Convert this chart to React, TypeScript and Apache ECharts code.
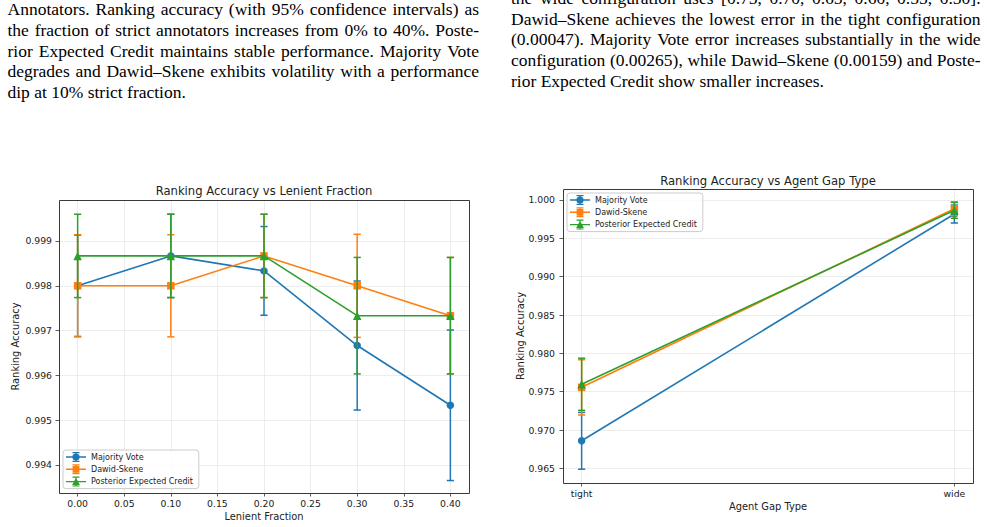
import React, { useEffect, useRef } from "react";
import * as echarts from "echarts";

// ---- Ranking accuracy vs lenient fraction (mean and 95% CI half-widths) ----
const lenientFractions = [0.0, 0.1, 0.2, 0.3, 0.4];
const mvLenient = [0.998, 0.998667, 0.998333, 0.996667, 0.995333];
const mvLenientCI = [0.00113, 0.00093, 0.00099, 0.00144, 0.00168];
const dsLenient = [0.998, 0.998, 0.998667, 0.998, 0.997333];
const dsLenientCI = [0.00114, 0.00114, 0.00093, 0.00115, 0.0013];
const pecLenient = [0.998667, 0.998667, 0.998667, 0.997333, 0.997333];
const pecLenientCI = [0.00093, 0.00093, 0.00093, 0.0013, 0.0013];
const lenientXTicks = [0, 0.05, 0.1, 0.15, 0.2, 0.25, 0.3, 0.35, 0.4];
const lenientYTicks = [0.994, 0.995, 0.996, 0.997, 0.998, 0.999];

// ---- Ranking accuracy vs agent gap type ----
const gapTypes = ["tight", "wide"];
const mvGap = [0.9686, 0.99817];
const mvGapCI = [0.0037, 0.00117];
const dsGap = [0.97557, 0.99885];
const dsGapCI = [0.0036, 0.0009];
const pecGap = [0.97597, 0.99865];
const pecGapCI = [0.0034, 0.00104];
const gapYTicks = [0.965, 0.97, 0.975, 0.98, 0.985, 0.99, 0.995, 1.0];

const methodNames = ["Majority Vote", "Dawid-Skene", "Posterior Expected Credit"];
const methodColors = ["#1f77b4", "#ff7f0e", "#2ca02c"];
const methodSymbols = ["circle", "rect", "triangle"];

// ---- Body text of the two columns ----
const leftColumnLines = [
  "Annotators. Ranking accuracy (with 95% confidence intervals) as",
  "the fraction of strict annotators increases from 0% to 40%. Poste-",
  "rior Expected Credit maintains stable performance. Majority Vote",
  "degrades and Dawid–Skene exhibits volatility with a performance",
  "dip at 10% strict fraction.",
];
const rightColumnLines = [
  "the wide configuration uses [0.75, 0.70, 0.65, 0.60, 0.55, 0.50].",
  "Dawid–Skene achieves the lowest error in the tight configuration",
  "(0.00047). Majority Vote error increases substantially in the wide",
  "configuration (0.00265), while Dawid–Skene (0.00159) and Poste-",
  "rior Expected Credit show smaller increases.",
];

const CHART_FONT = "DejaVu Sans";
const BODY_FONT = "Liberation Serif";
const BODY_SIZE = 17.5;

const leftGrid = { left: 59, top: 200, width: 410, height: 293 };
const rightGrid = { left: 563, top: 189, width: 410, height: 294 };

// Justify every line but the paragraph's last one across the column width.
function columnText(lines: string[], x0: number, width: number, firstBaseline: number, step: number) {
  const canvas = document.createElement("canvas");
  const ctx = canvas.getContext("2d")!;
  ctx.font = `${BODY_SIZE}px "${BODY_FONT}"`;
  const els: any[] = [];
  const mk = (x: number, y: number, s: string) => ({
    type: "text",
    x,
    y,
    silent: true,
    style: {
      text: s,
      fontFamily: BODY_FONT,
      fontSize: BODY_SIZE,
      fill: "#000",
      align: "left",
      verticalAlign: "middle",
    },
  });
  lines.forEach((line, i) => {
    const y = firstBaseline + i * step - BODY_SIZE * 0.3375;
    if (i === lines.length - 1) {
      els.push(mk(x0, y, line));
      return;
    }
    const words = line.split(" ");
    const ws = words.map((w) => ctx.measureText(w).width);
    const total = ws.reduce((a, b) => a + b, 0);
    const gap = (width - total) / (words.length - 1);
    let x = x0;
    words.forEach((w, k) => {
      els.push(mk(x, y, w));
      x += ws[k] + gap;
    });
  });
  return els;
}

function errorBars(name: string, xs: number[], ys: number[], ci: number[], color: string, axis: number, z: number) {
  return {
    type: "custom",
    name,
    xAxisIndex: axis,
    yAxisIndex: axis,
    z,
    silent: true,
    data: xs.map((x, i) => [x, ys[i] - ci[i], ys[i] + ci[i]]),
    encode: { x: 0, y: [1, 2] },
    renderItem: (_params: any, api: any) => {
      const x = api.value(0);
      const lo = api.coord([x, api.value(1)]);
      const hi = api.coord([x, api.value(2)]);
      const cap = 3.6;
      const style = { stroke: color, lineWidth: 1.5, fill: null };
      return {
        type: "group",
        children: [
          { type: "line", shape: { x1: lo[0], y1: lo[1], x2: hi[0], y2: hi[1] }, style },
          { type: "line", shape: { x1: lo[0] - cap, y1: lo[1], x2: lo[0] + cap, y2: lo[1] }, style },
          { type: "line", shape: { x1: hi[0] - cap, y1: hi[1], x2: hi[0] + cap, y2: hi[1] }, style },
        ],
      };
    },
  };
}

function lineSeries(k: number, xs: number[], ys: number[], axis: number, z: number) {
  return {
    type: "line",
    name: methodNames[k],
    xAxisIndex: axis,
    yAxisIndex: axis,
    z,
    data: xs.map((x, i) => [x, ys[i]]),
    symbol: methodSymbols[k],
    symbolSize: k === 2 ? 8.5 : k === 1 ? 7.5 : 7.5,
    showSymbol: true,
    lineStyle: { color: methodColors[k], width: 1.6 },
    itemStyle: { color: methodColors[k], borderWidth: 0 },
    emphasis: { disabled: true },
    silent: true,
  };
}

// Legend glyph: line, marker and a capped error bar in a 20 x 10 box.
const baseIcon =
  "M0,4.3 L20,4.3 L20,5.7 L0,5.7 Z " +
  "M9.35,0 L10.65,0 L10.65,10 L9.35,10 Z " +
  "M6.5,0 L13.5,0 L13.5,1.2 L6.5,1.2 Z " +
  "M6.5,8.8 L13.5,8.8 L13.5,10 L6.5,10 Z ";
const markerIcons = [
  "M13.6,5 A3.6,3.6 0 1,1 6.4,5 A3.6,3.6 0 1,1 13.6,5 Z",
  "M6.6,1.6 L13.4,1.6 L13.4,8.4 L6.6,8.4 Z",
  "M10,1.2 L13.9,8.3 L6.1,8.3 Z",
];

function legend(left: number, top: number) {
  return {
    left,
    top,
    orient: "vertical",
    selectedMode: false,
    itemWidth: 20,
    itemHeight: 10,
    itemGap: 2.3,
    padding: [2, 6, 2, 3],
    backgroundColor: "rgba(255,255,255,0.8)",
    borderColor: "#cccccc",
    borderWidth: 1,
    borderRadius: 3,
    z: 20,
    itemStyle: { borderWidth: 0 },
    textStyle: { fontFamily: CHART_FONT, fontSize: 8, color: "#222" },
    data: methodNames.map((n, k) => ({ name: n, icon: "path://" + baseIcon + markerIcons[k] })),
  };
}

function xAxis(grid: number, min: number, max: number, splitNumber: number, ticks: number[], fmt: (v: number) => string) {
  return {
    type: "value",
    gridIndex: grid,
    min,
    max,
    splitNumber,
    axisLine: { show: false, onZero: false },
    axisTick: { show: true, length: 3.5, customValues: ticks, lineStyle: { color: "#333", width: 0.8 } },
    axisLabel: { customValues: ticks, formatter: fmt, margin: 6, color: "#222", fontSize: 9.3, fontFamily: CHART_FONT },
    splitLine: { show: true, lineStyle: { color: "#e8e8e8", width: 0.8 } },
  };
}

function yAxis(grid: number, min: number, max: number, splitNumber: number, ticks: number[], margin: number) {
  return {
    type: "value",
    gridIndex: grid,
    min,
    max,
    splitNumber,
    axisLine: { show: false, onZero: false },
    axisTick: { show: true, length: 3.5, customValues: ticks, lineStyle: { color: "#333", width: 0.8 } },
    axisLabel: {
      customValues: ticks,
      formatter: (v: number) => v.toFixed(3),
      margin,
      color: "#222",
      fontSize: 9.3,
      fontFamily: CHART_FONT,
    },
    splitLine: { show: true, lineStyle: { color: "#e8e8e8", width: 0.8 } },
  };
}

function chartText(x: number, y: number, s: string, size: number, rotation = 0) {
  return {
    type: "text",
    x,
    y,
    rotation,
    silent: true,
    style: { text: s, fontFamily: CHART_FONT, fontSize: size, fill: "#222", align: "center", verticalAlign: "middle" },
  };
}

function frame(g: { left: number; top: number; width: number; height: number }) {
  return {
    type: "rect",
    z: 30,
    silent: true,
    shape: { x: g.left + 0.5, y: g.top + 0.5, width: g.width, height: g.height },
    style: { fill: "none", stroke: "#3a3a3a", lineWidth: 1 },
  };
}

export default function App() {
  const ref = useRef<HTMLDivElement>(null);

  useEffect(() => {
    if (!ref.current) return;
    const chart = echarts.init(ref.current, null, { renderer: "svg" });

    const lenientSets = [
      [mvLenient, mvLenientCI],
      [dsLenient, dsLenientCI],
      [pecLenient, pecLenientCI],
    ];
    const gapSets = [
      [mvGap, mvGapCI],
      [dsGap, dsGapCI],
      [pecGap, pecGapCI],
    ];
    const gapIdx = gapTypes.map((_, i) => i);

    const series: any[] = [];
    lenientSets.forEach(([ys, ci], k) => {
      series.push(errorBars(methodNames[k] + " CI (lenient)", lenientFractions, ys, ci, methodColors[k], 0, 2 + 2 * k));
      series.push(lineSeries(k, lenientFractions, ys, 0, 3 + 2 * k));
    });
    gapSets.forEach(([ys, ci], k) => {
      series.push(errorBars(methodNames[k] + " CI (gap)", gapIdx, ys, ci, methodColors[k], 1, 2 + 2 * k));
      series.push(lineSeries(k, gapIdx, ys, 1, 3 + 2 * k));
    });

    chart.setOption({
      animation: false,
      backgroundColor: "#ffffff",
      grid: [
        { ...leftGrid, containLabel: false },
        { ...rightGrid, containLabel: false },
      ],
      xAxis: [
        xAxis(0, -0.02, 0.42, 8, lenientXTicks, (v) => v.toFixed(2)),
        xAxis(1, -0.05, 1.05, 1, [0, 1], (v) => gapTypes[Math.round(v)] ?? ""),
      ],
      yAxis: [
        yAxis(0, 0.993375, 0.999915, 6, lenientYTicks, 7),
        yAxis(1, 0.963096, 1.001434, 8, gapYTicks, 8),
      ],
      legend: [legend(63, 450), legend(567, 193)],
      series,
      graphic: [
        ...columnText(leftColumnLines, 7.5, 471.5, 15.3, 20.6),
        ...columnText(rightColumnLines, 511, 469.5, 4.2, 20.6),
        chartText(264, 191, "Ranking Accuracy vs Lenient Fraction", 11.6),
        chartText(768, 181, "Ranking Accuracy vs Agent Gap Type", 11.6),
        chartText(264, 516.5, "Lenient Fraction", 9.9),
        chartText(768, 506, "Agent Gap Type", 9.9),
        chartText(15.5, 346.5, "Ranking Accuracy", 9.9, Math.PI / 2),
        chartText(520, 336, "Ranking Accuracy", 9.9, Math.PI / 2),
        frame(leftGrid),
        frame(rightGrid),
      ],
    });

    return () => chart.dispose();
  }, []);

  return (
    <div
      ref={ref}
      style={{ position: "fixed", left: 0, top: 0, width: 987, height: 527, background: "#fff" }}
    />
  );
}
